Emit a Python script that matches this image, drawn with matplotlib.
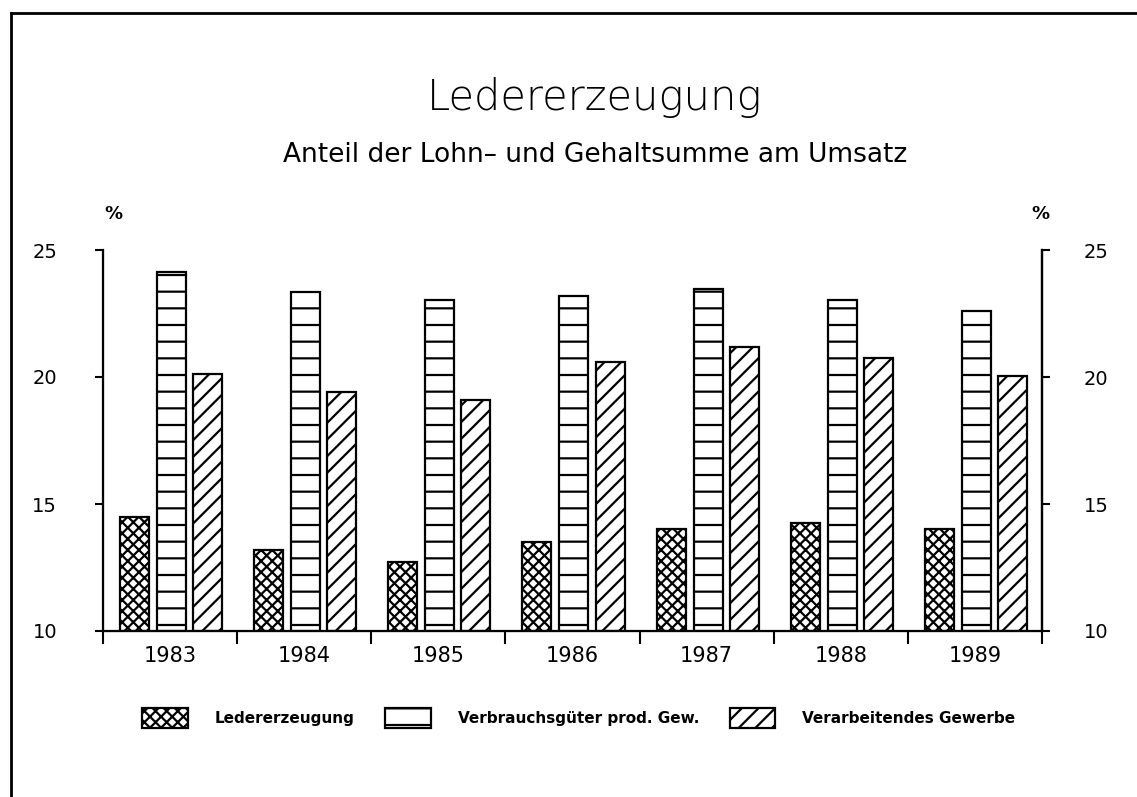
import matplotlib

matplotlib.use("Agg")
import matplotlib.pyplot as plt
import numpy as np
from matplotlib.lines import Line2D
from matplotlib.patches import Patch

years = ["1983", "1984", "1985", "1986", "1987", "1988", "1989"]
ledererzeugung = [14.5, 13.2, 12.7, 13.5, 14.0, 14.25, 14.0]
verbrauchsgueter = [24.15, 23.35, 23.05, 23.2, 23.45, 23.05, 22.6]
verarbeitendes = [20.1, 19.4, 19.1, 20.6, 21.2, 20.75, 20.05]

series_labels = ["Ledererzeugung", "Verbrauchsgüter prod. Gew.", "Verarbeitendes Gewerbe"]
hatches = ["xxx", "-", "//"]

plt.rcParams["font.family"] = "DejaVu Sans"
plt.rcParams["hatch.linewidth"] = 1.6
plt.rcParams["hatch.color"] = "black"

fig = plt.figure(figsize=(11.37, 7.97), dpi=100)
ax = fig.add_axes([103 / 1137, 1 - 631 / 797, (1042 - 103) / 1137, (631 - 250) / 797])

x = np.arange(len(years))
width = 0.216
offsets = [-0.265, 0.011, 0.28]
for vals, off, h in zip([ledererzeugung, verbrauchsgueter, verarbeitendes], offsets, hatches):
    ax.bar(x + off, np.array(vals) - 10, width=width, bottom=10, facecolor="white",
           edgecolor="black", linewidth=1.6, hatch=h, zorder=2)

ax.set_xlim(-0.5, len(years) - 0.5)
ax.set_ylim(10, 25)
ax.set_yticks([10, 15, 20, 25])
ax.tick_params(axis="y", direction="out", length=6, width=1.5, pad=27, labelsize=14)

# group boundaries as ticks, year labels centred below
ax.set_xticks(x)
ax.set_xticklabels(years)
ax.set_xticks(np.arange(len(years) + 1) - 0.5, minor=True)
ax.tick_params(axis="x", which="major", length=0, pad=11, labelsize=15)
ax.tick_params(axis="x", which="minor", direction="out", length=9, width=1.5)

ax.spines["top"].set_visible(False)
for s in ["left", "right", "bottom"]:
    ax.spines[s].set_linewidth(1.6)

ax2 = ax.twinx()
ax2.set_ylim(10, 25)
ax2.set_yticks([10, 15, 20, 25])
ax2.tick_params(axis="y", direction="out", length=6, width=1.5, pad=24, labelsize=14)
ax2.spines["top"].set_visible(False)
ax2.spines["right"].set_linewidth(1.6)

fig.text(0.523, 1 - 97 / 797, "Ledererzeugung", ha="center", va="center",
         fontsize=30, fontweight="light")
fig.text(0.523, 1 - 155 / 797, "Anteil der Lohn\u2013 und Gehaltsumme am Umsatz",
         ha="center", va="center", fontsize=19)
fig.text(113 / 1137, 1 - 214 / 797, "%", ha="center", va="center", fontsize=13, fontweight="bold")
fig.text(1040 / 1137, 1 - 214 / 797, "%", ha="center", va="center", fontsize=13, fontweight="bold")

handles = [Patch(facecolor="white", edgecolor="black", linewidth=1.6, hatch=h) for h in hatches]
fig.legend(handles, series_labels, loc="center", bbox_to_anchor=(0.509, 1 - 718 / 797),
           ncol=3, frameon=False, prop={"size": 11, "weight": "bold"}, handlelength=3.0,
           handleheight=1.6, handletextpad=1.75, columnspacing=2.0)

# page border
fig.add_artist(Line2D([11 / 1137, 1], [1 - 13 / 797, 1 - 13 / 797], transform=fig.transFigure,
                      color="black", linewidth=2))
fig.add_artist(Line2D([11 / 1137, 11 / 1137], [0, 1 - 13 / 797], transform=fig.transFigure,
                      color="black", linewidth=2))

fig.savefig("out.png", dpi=100)
